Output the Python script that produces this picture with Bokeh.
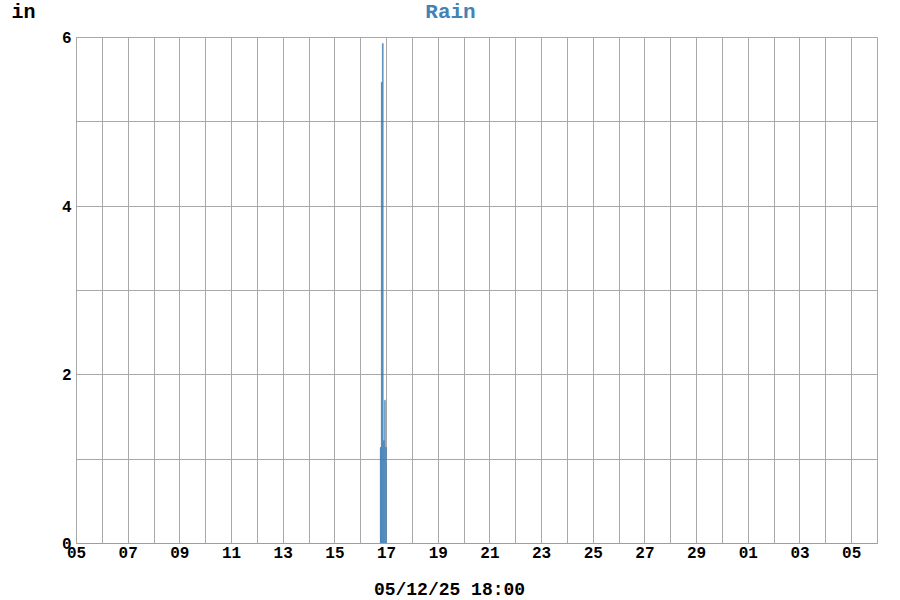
import pandas as pd
from bokeh.plotting import figure
from bokeh.layouts import column
from bokeh.models import (ColumnDataSource, DaysTicker, DatetimeTickFormatter, FixedTicker,
                          SingleIntervalTicker, Range1d, Label, LinearAxis)
from bokeh.embed import file_html
from bokeh.resources import INLINE

# ---- data ----
hours = ["2025-11-16 18:00", "2025-11-16 19:00", "2025-11-16 20:00",
         "2025-11-16 21:00", "2025-11-16 22:00", "2025-11-16 23:00"]
rain_in = [1.14, 5.47, 5.93, 1.22, 1.70, 1.14]
x_start = "2025-11-05 00:00"
x_end = "2025-12-06 00:00"
y_ticks = [0, 2, 4, 6]
title_text = "Rain"
unit_text = "in"
time_label = "05/12/25 18:00"

FONT = "Liberation Mono"
HOUR_MS = 3600 * 1000
W = 899


def text_strip(height):
    f = figure(width=W, height=height, output_backend="svg", toolbar_location=None,
               x_range=Range1d(0, 1), y_range=Range1d(0, height),
               x_axis_location=None, y_axis_location=None,
               min_border_left=0, min_border_right=0, min_border_top=0, min_border_bottom=0)
    f.grid.visible = False
    f.outline_line_color = None
    f.background_fill_color = "white"
    f.border_fill_color = "white"
    return f


# ---- top strip: unit (as a left tick label) + title ----
TOP_H = 28
top = text_strip(TOP_H)
unit_axis = LinearAxis(ticker=FixedTicker(ticks=[16]), major_label_overrides={16: unit_text},
                       axis_line_color=None, major_tick_line_color=None, minor_tick_line_color=None,
                       major_label_standoff=35, major_label_text_font=FONT,
                       major_label_text_font_style="bold", major_label_text_font_size="20px",
                       major_label_text_color="black")
top.add_layout(unit_axis, "left")
top.add_layout(Label(x=374, y=16, x_units="screen", y_units="screen", text=title_text,
                     text_font=FONT, text_font_style="bold", text_font_size="21px",
                     text_color="#4282b4", text_align="center", text_baseline="alphabetic"))

# ---- main plot ----
src = ColumnDataSource(dict(x=pd.to_datetime(hours) + pd.Timedelta(minutes=30), top=rain_in))

p = figure(width=W, height=537, x_axis_type="datetime", output_backend="svg",
           toolbar_location=None,
           x_range=Range1d(pd.Timestamp(x_start), pd.Timestamp(x_end)),
           y_range=Range1d(0, 6),
           min_border_left=76, min_border_right=22, min_border_top=9, min_border_bottom=22)

p.vbar(x="x", top="top", width=HOUR_MS, bottom=0, source=src,
       fill_color="#3f7fb5", line_color="#3f7fb5", line_width=0.3)

p.outline_line_color = "#a8a8a8"
p.background_fill_color = "white"
p.border_fill_color = "white"

# x axis
p.xaxis.ticker = DaysTicker(days=list(range(1, 32, 2)))
p.xaxis.formatter = DatetimeTickFormatter(days="%d", months="%d")
p.xaxis.major_tick_in = 0
p.xaxis.major_tick_out = 0
p.xaxis.minor_tick_in = 0
p.xaxis.minor_tick_out = 0
p.xaxis.axis_line_color = "#8aa2c0"
p.xaxis.major_label_text_font = FONT
p.xaxis.major_label_text_font_style = "bold"
p.xaxis.major_label_text_font_size = "16px"
p.xaxis.major_label_text_color = "black"
p.xaxis.major_label_standoff = 3

# y axis
p.yaxis.ticker = FixedTicker(ticks=y_ticks)
p.yaxis.major_tick_in = 0
p.yaxis.major_tick_out = 0
p.yaxis.minor_tick_in = 0
p.yaxis.minor_tick_out = 0
p.yaxis.axis_line_color = "#a8a8a8"
p.yaxis.major_label_text_font = FONT
p.yaxis.major_label_text_font_style = "bold"
p.yaxis.major_label_text_font_size = "16px"
p.yaxis.major_label_text_color = "black"
p.yaxis.major_label_standoff = 5

# grids
p.xgrid.ticker = DaysTicker(days=list(range(1, 32)))
p.xgrid.grid_line_color = "#a8a8a8"
p.xgrid.grid_line_width = 1
p.ygrid.ticker = SingleIntervalTicker(interval=1)
p.ygrid.grid_line_color = "#a8a8a8"
p.ygrid.grid_line_width = 1

# ---- bottom strip: time label ----
BOT_H = 34
bottom = text_strip(BOT_H)
bottom.add_layout(Label(x=373, y=10, x_units="screen", y_units="screen", text=time_label,
                        text_font=FONT, text_font_style="bold", text_font_size="18px",
                        text_color="black", text_align="center", text_baseline="alphabetic"))

layout = column(top, p, bottom, spacing=0)
open("out.html", "w").write(file_html(layout, INLINE))
